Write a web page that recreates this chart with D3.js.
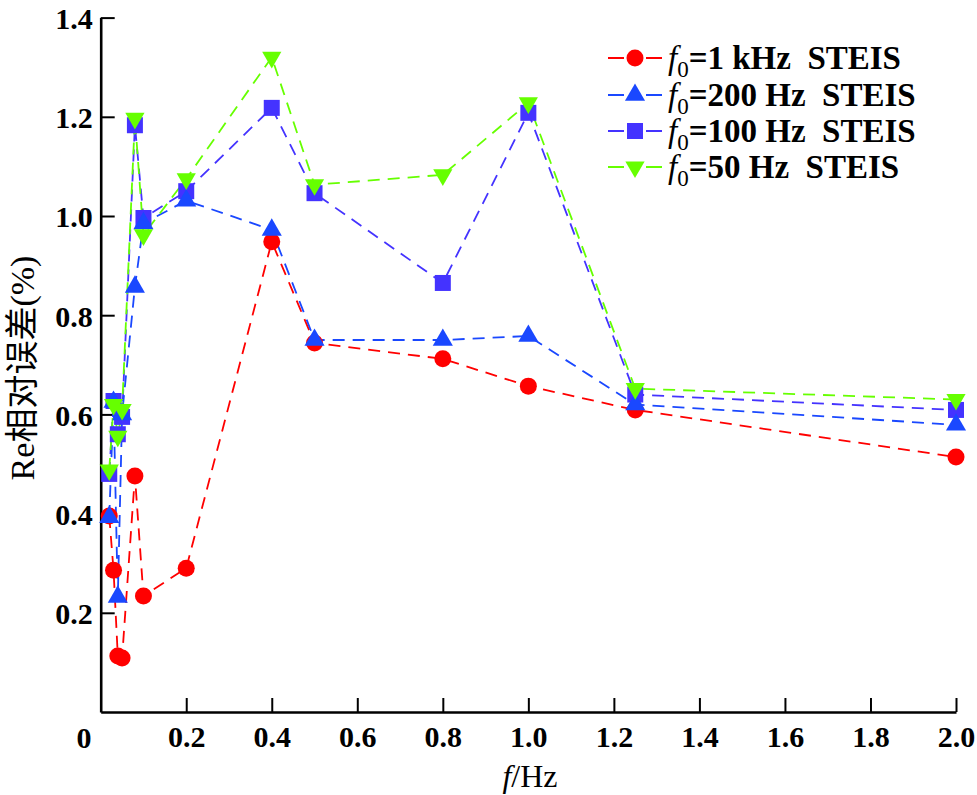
<!DOCTYPE html>
<html><head><meta charset="utf-8">
<script src="https://cdn.jsdelivr.net/npm/d3@7"></script>
<style>body{margin:0;background:#fff}svg{display:block}</style>
</head><body>
<svg id="c" width="977" height="795"></svg>
<script>
const freq   = [0.02, 0.03, 0.04, 0.05, 0.08, 0.1, 0.2, 0.4, 0.5, 0.8, 1.0, 1.25, 2.0];
const re1k   = [0.395, 0.286, 0.113, 0.109, 0.476, 0.234, 0.290, 0.948, 0.744, 0.712, 0.657, 0.609, 0.514];
const re200  = [0.393, 0.625, 0.232, 0.600, 0.857, 0.985, 1.031, 0.972, 0.750, 0.750, 0.758, 0.620, 0.579];
const re100  = [0.480, 0.627, 0.560, 0.595, 1.183, 0.996, 1.050, 1.218, 1.046, 0.865, 1.208, 0.640, 0.609];
const re50   = [0.488, 0.620, 0.556, 0.610, 1.197, 0.962, 1.075, 1.320, 1.063, 1.083, 1.228, 0.652, 0.630];
const xTicks = [0.2, 0.4, 0.6, 0.8, 1.0, 1.2, 1.4, 1.6, 1.8, 2.0];
const yTicks = [0.2, 0.4, 0.6, 0.8, 1.0, 1.2, 1.4];
const seriesNames = ["1 kHz", "200 Hz", "100 Hz", "50 Hz"];

const svg = d3.select("#c");
const x = d3.scaleLinear().domain([0, 2.0]).range([100.7, 956]);
const y = d3.scaleLinear().domain([0, 1.4]).range([712, 17.6]);

const series = [
  {name: seriesNames[0], vals: re1k,  color: "#ff0000", sym: d3.symbolCircle,   size: 227, rot: 0},
  {name: seriesNames[1], vals: re200, color: "#1a48ff", sym: d3.symbolTriangle, size: 175, rot: 0},
  {name: seriesNames[2], vals: re100, color: "#4433ff", sym: d3.symbolSquare,   size: 256, rot: 0},
  {name: seriesNames[3], vals: re50,  color: "#66ff00", sym: d3.symbolTriangle, size: 160, rot: 180}
];
const drawOrder = [0, 2, 1, 3];

const serif = "'Liberation Serif','Tinos','Times New Roman',serif";

// axes
const xAxis = d3.axisBottom(x).tickValues(xTicks).tickSizeInner(-14).tickSizeOuter(0).tickFormat(d3.format(".1f"));
const gx = svg.append("g").attr("transform", "translate(0,712)").call(xAxis);
gx.select(".domain").attr("stroke", "#000").attr("stroke-width", 2.6);
gx.selectAll(".tick line").attr("stroke", "#000").attr("stroke-width", 2);
gx.selectAll(".tick text").attr("y", 14).attr("dy", "0.71em")
  .attr("font-family", serif).attr("font-size", 30).attr("font-weight", "bold").attr("fill", "#000");

const yAxis = d3.axisLeft(y).tickValues(yTicks).tickSizeInner(-14).tickSizeOuter(0).tickFormat(d3.format(".1f"));
const gy = svg.append("g").attr("transform", "translate(100.7,0)").call(yAxis);
gy.select(".domain").attr("stroke", "#000").attr("stroke-width", 2.6);
gy.selectAll(".tick line").attr("stroke", "#000").attr("stroke-width", 2);
gy.selectAll(".tick text").attr("x", -8).attr("dy", "0.36em")
  .attr("font-family", serif).attr("font-size", 30).attr("font-weight", "bold").attr("fill", "#000");

// origin label
svg.append("text").attr("x", 84).attr("y", 748).attr("text-anchor", "middle")
  .attr("font-family", serif).attr("font-size", 30).attr("font-weight", "bold").text("0");

// axis titles
const xt = svg.append("text").attr("x", 530).attr("y", 787).attr("text-anchor", "middle")
  .attr("font-family", serif).attr("font-size", 32);
xt.append("tspan").attr("font-style", "italic").text("f");
xt.append("tspan").text("/Hz");

svg.append("text").attr("transform", "translate(34,368) rotate(-90)").attr("text-anchor", "middle")
  .attr("font-family", "'Liberation Serif','Noto Sans CJK SC',serif").attr("font-size", 34)
  .text("Re相对误差(%)");

// lines and markers
const line = d3.line().x((d, i) => x(freq[i])).y(d => y(d));
drawOrder.forEach(k => {
  const s = series[k];
  svg.append("path").datum(s.vals).attr("d", line).attr("fill", "none")
    .attr("stroke", s.color).attr("stroke-width", 1.8).attr("stroke-dasharray", "12,8");
});
drawOrder.forEach(k => {
  const s = series[k];
  svg.append("g").selectAll("path").data(s.vals).join("path")
    .attr("d", d3.symbol().type(s.sym).size(s.size))
    .attr("transform", (d, i) => `translate(${x(freq[i])},${y(d)}) rotate(${s.rot})`)
    .attr("fill", s.color);
});

// legend
const legY = [58, 95, 131, 167];
series.forEach((s, i) => {
  const g = svg.append("g").attr("transform", `translate(0,${legY[i]})`);
  g.append("line").attr("x1", 608).attr("x2", 662).attr("stroke", s.color).attr("stroke-width", 1.8)
    .attr("stroke-dasharray", "16,22");
  g.append("path").attr("d", d3.symbol().type(s.sym).size(s.size))
    .attr("transform", `translate(635,0) rotate(${s.rot})`).attr("fill", s.color);
  const t = g.append("text").attr("x", 668).attr("y", 11).attr("font-family", serif).attr("font-size", 33)
    .attr("font-weight", "bold");
  t.append("tspan").attr("font-style", "italic").attr("font-weight", "normal").text("f");
  t.append("tspan").attr("font-size", 23).attr("font-weight", "normal").attr("dy", 8).text("0");
  t.append("tspan").attr("dy", -8).text("=" + s.name + "\u00a0\u00a0STEIS");
});
</script>
</body></html>
